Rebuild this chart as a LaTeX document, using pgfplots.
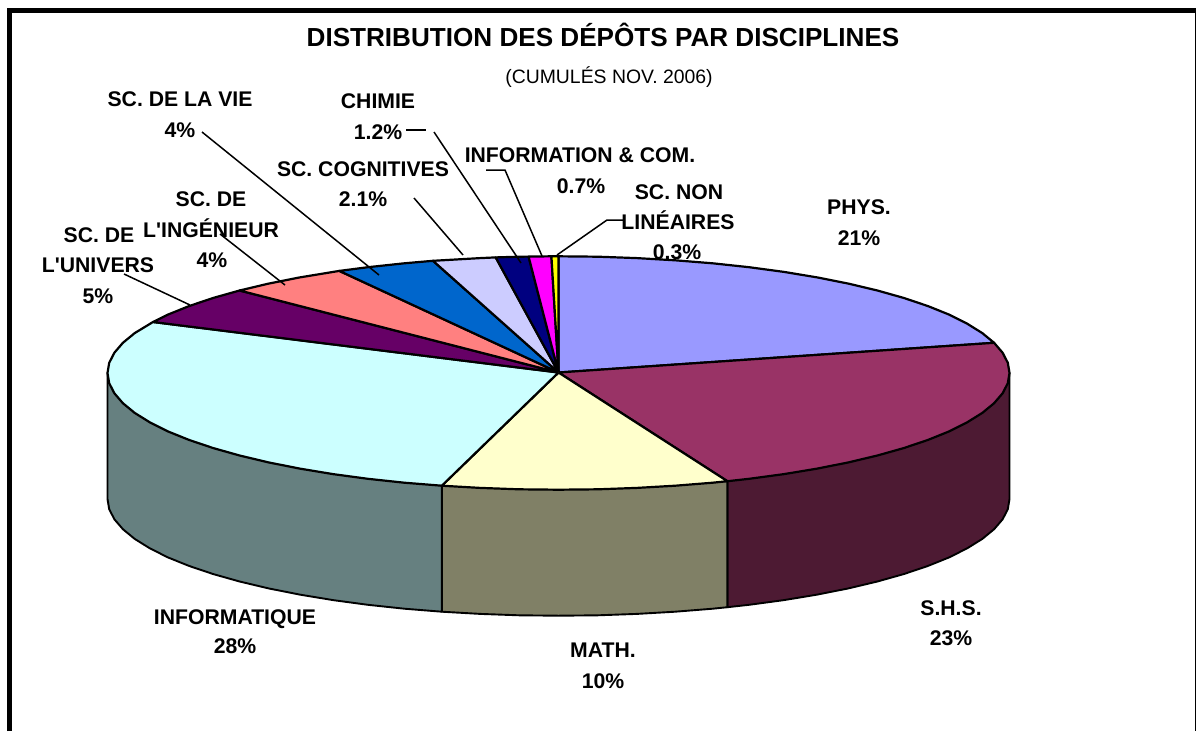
\documentclass[border=0pt]{standalone}
\usepackage{fontspec}
\setmainfont{Liberation Sans}
\usepackage{pgfplots}
\pgfplotsset{compat=1.18}
\definecolor{cphys}{HTML}{9999FF}
\definecolor{cshs}{HTML}{993366}
\definecolor{cmath}{HTML}{FFFFCC}
\definecolor{cinfo}{HTML}{CCFFFF}
\definecolor{cuniv}{HTML}{660066}
\definecolor{cing}{HTML}{FF8080}
\definecolor{cvie}{HTML}{0066CC}
\definecolor{ccog}{HTML}{CCCCFF}
\definecolor{cchim}{HTML}{000080}
\definecolor{ccom}{HTML}{FF00FF}
\definecolor{cnon}{HTML}{FFFF00}
\definecolor{sshs}{HTML}{4D1A33}
\definecolor{smath}{HTML}{808066}
\definecolor{sinfo}{HTML}{668080}
\begin{document}
\begin{tikzpicture}[
  lab/.style={anchor=base,inner sep=0pt,font=\fontsize{21.2}{21.2}\selectfont\bfseries,text=black},
  slice/.style={draw=black,line width=2.2pt,line join=round},
  side/.style={draw=black,line width=1.9pt,line join=round},
  lead/.style={draw=black,line width=1.5pt}]
\useasboundingbox (0,0) rectangle (1196pt,731pt);
\begin{axis}[at={(0,0)},anchor=south west,scale only axis,width=1196pt,height=731pt,
  xmin=0,xmax=1196,ymin=0,ymax=731,y dir=reverse,hide axis]
% frame
\addplot[draw=black,line width=4.6pt] coordinates {(9.3,731) (9.3,10.7) (1196,10.7)};
\addplot[draw=black,line width=1.3pt] coordinates {(1195.2,10) (1195.2,731)};
% sides
\addplot[side,fill=sshs] coordinates {(1009.5,373)(1009.5,499)(1007.8,509.2)(1002.6,519.3)(994.1,529.2)(982.3,538.9)(967.2,548.3)(949.1,557.4)(928,565.9)(904,574)(877.4,581.5)(848.4,588.4)(817.2,594.6)(784,600.1)(749.1,604.8)(727.4,607.2)(727.4,481.2)(1009.5,373)};
\addplot[side,fill=smath] coordinates {(727.4,481.2)(727.4,607.2)(712.7,608.7)(675.2,611.7)(636.8,613.9)(597.8,615.3)(558.5,615.7)(519.2,615.3)(480.2,613.9)(441.8,611.7)(441.8,485.7)(727.4,481.2)};
\addplot[side,fill=sinfo] coordinates {(441.8,485.7)(441.8,611.7)(404.3,608.7)(367.9,604.8)(333,600.1)(299.8,594.6)(268.6,588.4)(239.6,581.5)(213,574)(189,565.9)(167.9,557.4)(149.8,548.3)(134.7,538.9)(122.9,529.2)(114.4,519.3)(109.2,509.2)(107.5,499)(107.5,373)(441.8,485.7)};
% top face
\addplot[slice,fill=cphys] coordinates {(558.5,372.5)(558.5,256.3)(597.8,256.7)(636.8,258.1)(675.2,260.3)(712.7,263.3)(749.1,267.2)(784,271.9)(817.2,277.4)(848.4,283.6)(877.4,290.5)(904,298)(928,306.1)(949.1,314.6)(967.2,323.7)(982.3,333.1)(994.1,342.8)(558.5,372.5)};
\addplot[slice,fill=cshs] coordinates {(558.5,372.5)(994.1,342.8)(1002.6,352.7)(1007.8,362.8)(1009.5,373)(1007.8,383.2)(1002.6,393.3)(994.1,403.2)(982.3,412.9)(967.2,422.3)(949.1,431.4)(928,439.9)(904,448)(877.4,455.5)(848.4,462.4)(817.2,468.6)(784,474.1)(749.1,478.8)(727.4,481.2)(558.5,372.5)};
\addplot[slice,fill=cmath] coordinates {(558.5,372.5)(727.4,481.2)(712.7,482.7)(675.2,485.7)(636.8,487.9)(597.8,489.3)(558.5,489.7)(519.2,489.3)(480.2,487.9)(441.8,485.7)(558.5,372.5)};
\addplot[slice,fill=cinfo] coordinates {(558.5,372.5)(441.8,485.7)(404.3,482.7)(367.9,478.8)(333,474.1)(299.8,468.6)(268.6,462.4)(239.6,455.5)(213,448)(189,439.9)(167.9,431.4)(149.8,422.3)(134.7,412.9)(122.9,403.2)(114.4,393.3)(109.2,383.2)(107.5,373)(109.2,362.8)(114.4,352.7)(122.9,342.8)(134.7,333.1)(153,322)(558.5,372.5)};
\addplot[slice,fill=cuniv] coordinates {(558.5,372.5)(153,322)(167.9,314.6)(189,306.1)(213,298)(239.6,290.5)(558.5,372.5)};
\addplot[slice,fill=cing] coordinates {(558.5,372.5)(239.6,290.5)(268.6,283.6)(299.8,277.4)(339.3,270.9)(558.5,372.5)};
\addplot[slice,fill=cvie] coordinates {(558.5,372.5)(339.3,270.9)(367.9,267.2)(404.3,263.3)(433,260.8)(558.5,372.5)};
\addplot[slice,fill=ccog] coordinates {(558.5,372.5)(433,260.8)(441.8,260.3)(480.2,258.1)(495.7,257.4)(558.5,372.5)};
\addplot[slice,fill=cchim] coordinates {(558.5,372.5)(495.7,257.4)(519.2,256.7)(528.6,256.6)(558.5,372.5)};
\addplot[slice,fill=ccom] coordinates {(558.5,372.5)(528.6,256.6)(551.4,256.3)(558.5,372.5)};
\addplot[slice,fill=cnon] coordinates {(558.5,372.5)(551.4,256.3)(558.5,256.3)(558.5,372.5)};
% leaders
\addplot[lead] coordinates {(124,274)(190,305)};
\addplot[lead] coordinates {(220,234)(285,285)};
\addplot[lead] coordinates {(202,132)(379,275)};
\addplot[lead] coordinates {(414,198)(463,255)};
\addplot[lead] coordinates {(406,130)(426,130)};
\addplot[lead] coordinates {(434,132)(521,263)};
\addplot[lead] coordinates {(486,170)(505,170)(542,256)};
\addplot[lead] coordinates {(624,220)(607,220)(557,255)};
% text
\node[lab,font=\fontsize{26.1}{26.1}\selectfont\bfseries] at (axis cs:603,46) {DISTRIBUTION DES DÉPÔTS PAR DISCIPLINES};
\node[lab,font=\fontsize{19.4}{19.4}\selectfont] at (axis cs:609,83) {(CUMULÉS NOV. 2006)};
\node[lab] at (axis cs:859,214) {PHYS.};
\node[lab] at (axis cs:859,245) {21\%};
\node[lab] at (axis cs:951,615) {S.H.S.};
\node[lab] at (axis cs:951,645) {23\%};
\node[lab] at (axis cs:603,657) {MATH.};
\node[lab] at (axis cs:603,688) {10\%};
\node[lab] at (axis cs:235,624) {INFORMATIQUE};
\node[lab] at (axis cs:235,653) {28\%};
\node[lab] at (axis cs:99,242) {SC. DE};
\node[lab] at (axis cs:98,272) {L\textquotesingle UNIVERS};
\node[lab] at (axis cs:98,303) {5\%};
\node[lab] at (axis cs:211,206) {SC. DE};
\node[lab] at (axis cs:211,237) {L\textquotesingle INGÉNIEUR};
\node[lab] at (axis cs:212,267) {4\%};
\node[lab] at (axis cs:180,106) {SC. DE LA VIE};
\node[lab] at (axis cs:180,137) {4\%};
\node[lab] at (axis cs:363,176) {SC. COGNITIVES};
\node[lab] at (axis cs:363,206) {2.1\%};
\node[lab] at (axis cs:378,108) {CHIMIE};
\node[lab] at (axis cs:378,139) {1.2\%};
\node[lab] at (axis cs:580,162) {INFORMATION \& COM.};
\node[lab] at (axis cs:581,193) {0.7\%};
\node[lab] at (axis cs:679,199) {SC. NON};
\node[lab] at (axis cs:678,229) {LINÉAIRES};
\node[lab] at (axis cs:677,259) {0.3\%};
\end{axis}
\end{tikzpicture}
\end{document}
